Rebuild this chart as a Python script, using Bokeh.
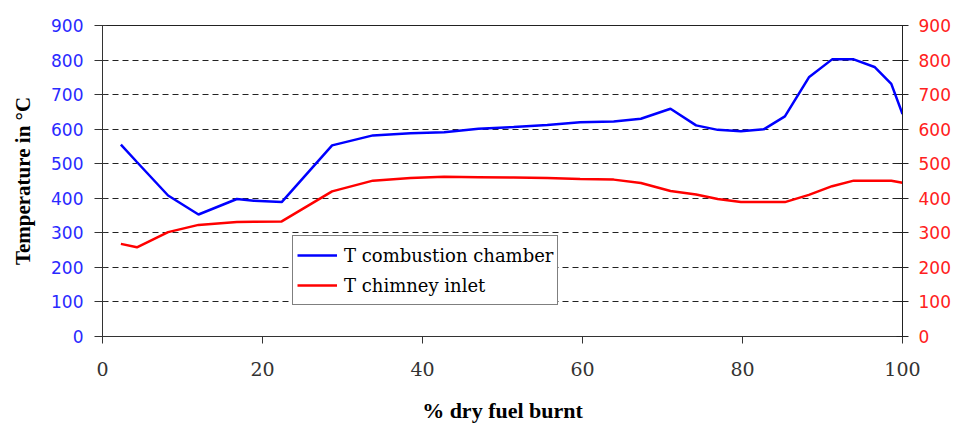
from bokeh.plotting import figure
from bokeh.models import Range1d, LinearAxis, FixedTicker, Legend, LegendItem
from bokeh.embed import file_html
from bokeh.resources import INLINE

# ---- data ----
fuel_burnt = [2.3, 4.3, 8.2, 12.0, 16.8, 18.9, 22.4, 28.7, 33.8, 38.5, 42.7, 47.0, 51.4,
              55.6, 59.7, 63.9, 67.3, 71.0, 74.2, 76.9, 79.8, 82.7, 85.3, 88.3, 91.2,
              93.9, 96.5, 98.6, 100.0]
t_combustion = [555, 505, 408, 353, 398, 393, 389, 553, 582, 588, 591, 601, 606,
                612, 620, 622, 630, 659, 611, 598, 594, 600, 637, 750, 802,
                802, 780, 731, 644]
t_chimney = [268, 258, 302, 323, 331, 332, 333, 420, 451, 459, 462, 461, 460,
             459, 456, 454, 444, 421, 411, 398, 389, 389, 389, 410, 435,
             451, 451, 451, 445]
x_ticks = [0, 20, 40, 60, 80, 100]
y_ticks = [0, 100, 200, 300, 400, 500, 600, 700, 800, 900]
x_label = "% dry fuel burnt"
y_label = "Temperature in \u00b0C"
series_names = ["T combustion chamber", "T chimney inlet"]

p = figure(width=956, height=428, output_backend="svg", toolbar_location=None,
           x_range=Range1d(0, 100), y_range=Range1d(0, 900),
           min_border_left=102, min_border_right=54, min_border_top=25, min_border_bottom=92)
p.extra_y_ranges = {"right": Range1d(0, 900)}

p.background_fill_color = "white"
p.border_fill_color = "white"
p.outline_line_color = "#222222"
p.outline_line_width = 1

# grid
p.xgrid.visible = False
p.ygrid.ticker = FixedTicker(ticks=y_ticks[1:-1])
p.ygrid.grid_line_color = "#222222"
p.ygrid.grid_line_dash = "6 4"
p.ygrid.grid_line_width = 1

# x axis
xa = p.xaxis[0]
xa.ticker = FixedTicker(ticks=x_ticks)
xa.axis_line_color = "#333333"
xa.major_tick_line_color = "#333333"
xa.major_tick_out = 7
xa.major_tick_in = 0
xa.minor_tick_line_color = None
xa.major_label_text_font = "DejaVu Serif"
xa.major_label_text_font_size = "19px"
xa.major_label_text_color = "#333333"
xa.major_label_standoff = 18
xa.axis_label = x_label
xa.axis_label_text_font = "Liberation Serif"
xa.axis_label_text_font_size = "22px"
xa.axis_label_text_font_style = "bold"
xa.axis_label_text_color = "black"
xa.axis_label_standoff = 19

# left axis
ya = p.yaxis[0]
ya.ticker = FixedTicker(ticks=y_ticks)
ya.axis_line_color = "#333333"
ya.major_tick_line_color = "#333333"
ya.major_tick_out = 8
ya.major_tick_in = 4
ya.minor_tick_line_color = None
ya.major_label_text_font = "DejaVu Sans"
ya.major_label_text_font_size = "17px"
ya.major_label_text_color = "#2a2aff"
ya.major_label_standoff = 11
ya.axis_label = y_label
ya.axis_label_text_font = "Liberation Serif"
ya.axis_label_text_font_size = "21px"
ya.axis_label_text_font_style = "bold"
ya.axis_label_text_color = "black"
ya.axis_label_standoff = 13

# right axis
ra = LinearAxis(y_range_name="right", ticker=FixedTicker(ticks=y_ticks))
ra.axis_line_color = "#222222"
ra.major_tick_line_color = "#222222"
ra.major_tick_out = 6
ra.major_tick_in = 6
ra.minor_tick_line_color = None
ra.major_label_text_font = "DejaVu Sans"
ra.major_label_text_font_size = "17px"
ra.major_label_text_color = "#ff2020"
ra.major_label_standoff = 10
p.add_layout(ra, "right")

r1 = p.line(fuel_burnt, t_combustion, line_color="#0000ff", line_width=2.5)
r2 = p.line(fuel_burnt, t_chimney, line_color="#ff0000", line_width=2.5)

legend = Legend(items=[LegendItem(label=series_names[0], renderers=[r1]),
                       LegendItem(label=series_names[1], renderers=[r2])],
                location=(190, 31))
legend.border_line_color = "black"
legend.border_line_width = 1
legend.background_fill_color = "white"
legend.background_fill_alpha = 1
legend.label_text_font = "DejaVu Serif"
legend.label_text_font_size = "18px"
legend.label_text_color = "black"
legend.padding = 4
legend.spacing = 0
legend.margin = 0
legend.label_height = 30
legend.glyph_height = 30
legend.glyph_width = 40
legend.label_standoff = 7
p.add_layout(legend, "center")

open("out.html", "w").write(file_html(p, INLINE))
